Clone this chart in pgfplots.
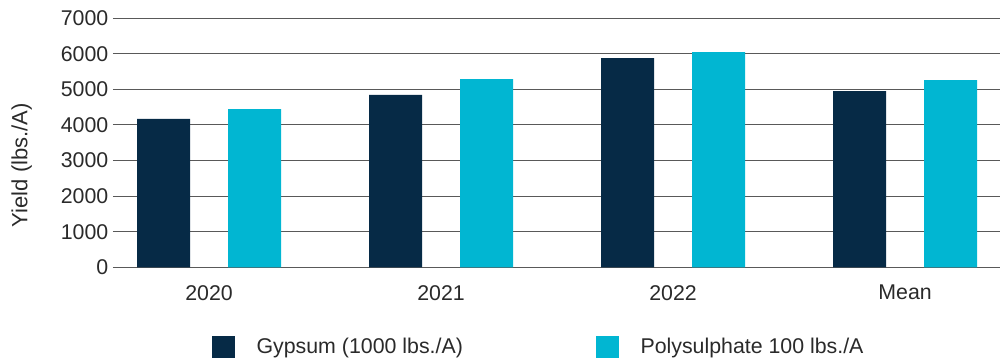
\documentclass[border=0pt]{standalone}
\usepackage{pgfplots}
\pgfplotsset{compat=1.18}
\usepackage{fontspec}
\setmainfont{Liberation Sans}
\definecolor{gyp}{HTML}{062A46}
\definecolor{poly}{HTML}{01B6D2}
\definecolor{txt}{HTML}{2A2A2A}
\begin{document}
\begin{tikzpicture}
\begin{axis}[
  scale only axis,
  width=665.25pt, height=186.75pt,
  ybar=28.5pt, bar width=39.75pt,
  xmin=-0.414, xmax=3.409,
  ymin=0, ymax=7000,
  ytick={0,1000,...,7000},
  xtick={0,1,2,3},
  xticklabels={2020,2021,2022,Mean},
  major tick length=0pt,
  axis line style={draw=none},
  ymajorgrids,
  grid style={black!65, line width=0.75pt},
  tick label style={font=\fontsize{16}{19}\selectfont, text=txt},
  /pgf/number format/assume math mode=true,
  /pgf/number format/1000 sep={},
  xticklabel style={yshift=-10pt},
  ylabel={Yield (lbs./A)},
  ylabel style={font=\fontsize{16.5}{19}\selectfont, text=txt, at={(axis description cs:-0.103,0.41)}, anchor=center},
  legend columns=2,
  legend style={draw=none, font=\fontsize{16}{19}\selectfont, text=txt,
    at={(axis description cs:0.1071,-0.32)}, anchor=west,
    /tikz/every odd column/.append style={column sep=14pt},
    /tikz/every even column/.append style={column sep=98pt}},
  legend image code/.code={\fill[#1] (0pt,-8.25pt) rectangle (17.25pt,8.25pt);},
  clip=false,
]
\addplot[fill=gyp, draw=none] coordinates {(0,4169) (1,4843) (2,5879) (3,4952)};
\addplot[fill=poly, draw=none] coordinates {(0,4449) (1,5289) (2,6048) (3,5261)};
\legend{Gypsum (1000 lbs./A), Polysulphate 100 lbs./A}
\end{axis}
\pgfresetboundingbox
\path[use as bounding box] ([xshift=-84.75pt,yshift=-67.95pt]current axis.south west) rectangle ([xshift=6pt,yshift=13.7pt]current axis.north east);
\end{tikzpicture}
\end{document}
